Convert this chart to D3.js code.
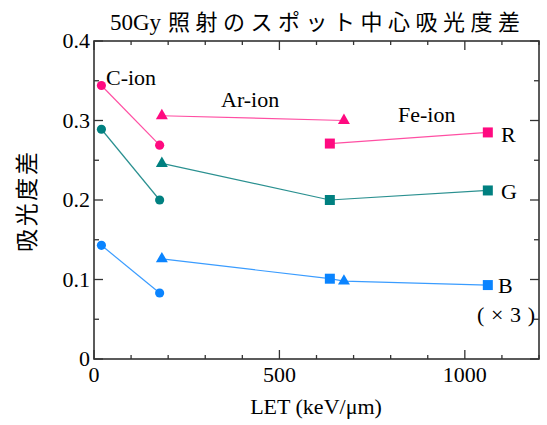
<!DOCTYPE html>
<html>

<head>
    <meta http-equiv="Content-Type" content="text/html; charset=utf-8" />
    <title>50Gy照射のスポット中心吸光度差</title>
    <style type="text/css">
        * {
            margin: 0;
            padding: 0
        }

        html,
        body {
            width: 100%;
            height: 100%;
            background: #fff;
        }
    </style>
</head>

<body>
    <svg id="chart" width="547" height="425"></svg>
    <script src="https://cdn.jsdelivr.net/npm/d3@7"></script>
    <script>
        // データ (LET keV/um, 吸光度差)
        const channels = ["R", "G", "B"];
        const ions = ["C", "Ar", "Fe"];
        const ionLabels = ["C-ion", "Ar-ion", "Fe-ion"];
        const letC = [20, 177];
        const letAr = [183, 674];
        const letFe = [636, 1062];
        const rC = [0.344, 0.269];
        const rAr = [0.306, 0.300];
        const rFe = [0.271, 0.285];
        const gC = [0.289, 0.200];
        const gAr = [0.246];
        const gFe = [0.200, 0.212];
        const bC = [0.143, 0.083];
        const bAr = [0.126, 0.098];
        const bFe = [0.101, 0.093];
        // 線で結ぶグループ
        const lineGroups = {
            R: [["C"], ["Ar"], ["Fe"]],
            G: [["C"], ["Ar", "Fe"]],
            B: [["C"], ["Ar", "Fe"]]
        };
        const xTicks = [0, 500, 1000];
        const yTicks = [0, 0.1, 0.2, 0.3, 0.4];
        const yTickLabels = ["0", "0.1", "0.2", "0.3", "0.4"];

        const colors = { R: "#ff0a80", G: "#008080", B: "#0a84ff" };
        const lineColors = { R: "#ff4fa3", G: "#2a9090", B: "#3a9cff" };
        const serif = '"Liberation Serif", "Times New Roman", "DejaVu Serif", "Noto Sans CJK JP", serif';

        const lets = { C: letC, Ar: letAr, Fe: letFe };
        const values = {
            R: { C: rC, Ar: rAr, Fe: rFe },
            G: { C: gC, Ar: gAr, Fe: gFe },
            B: { C: bC, Ar: bAr, Fe: bFe }
        };

        const svg = d3.select("#chart").style("font-family", serif);
        const margin = { top: 41, right: 8, bottom: 66, left: 94 };
        const width = 547 - margin.left - margin.right;
        const height = 425 - margin.top - margin.bottom;
        const x = d3.scaleLinear().domain([0, 1200]).range([0, width]);
        const y = d3.scaleLinear().domain([0, 0.4]).range([height, 0]);
        const g = svg.append("g").attr("transform", `translate(${margin.left},${margin.top})`);

        // 目盛り (内向き)
        const axisColor = "#333";
        const tickX = d3.range(0, 1201, 100);
        const tickY = d3.range(0, 0.401, 0.05);
        const major = (v, step) => Math.abs(v / step - Math.round(v / step)) < 1e-6;
        tickX.forEach(v => {
            const len = major(v, 500) ? 9 : 4;
            g.append("line").attr("x1", x(v)).attr("x2", x(v)).attr("y1", height).attr("y2", height - len);
            g.append("line").attr("x1", x(v)).attr("x2", x(v)).attr("y1", 0).attr("y2", len);
        });
        tickY.forEach(v => {
            const len = major(v, 0.1) ? 9 : 5;
            g.append("line").attr("x1", 0).attr("x2", len).attr("y1", y(v)).attr("y2", y(v));
            g.append("line").attr("x1", width).attr("x2", width - len).attr("y1", y(v)).attr("y2", y(v));
        });
        g.selectAll("line").attr("stroke", axisColor).attr("stroke-width", 1.3);
        g.append("rect").attr("width", width).attr("height", height)
            .attr("fill", "none").attr("stroke", axisColor).attr("stroke-width", 1.6);

        // 目盛りラベル
        g.selectAll(".xl").data(xTicks).enter().append("text")
            .attr("x", d => x(d)).attr("y", height + 23)
            .attr("text-anchor", "middle").attr("font-size", 22)
            .text(d => d);
        g.selectAll(".yl").data(yTicks).enter().append("text")
            .attr("x", -4).attr("y", d => y(d) + 7)
            .attr("text-anchor", "end").attr("font-size", 22)
            .text((d, i) => yTickLabels[i]);

        // 線
        const line = d3.line().x(d => x(d[0])).y(d => y(d[1]));
        channels.forEach(ch => {
            lineGroups[ch].forEach(grp => {
                const pts = [];
                grp.forEach(ion => {
                    values[ch][ion].forEach((v, i) => pts.push([lets[ion][i], v]));
                });
                pts.sort((a, b) => a[0] - b[0]);
                g.append("path").attr("d", line(pts))
                    .attr("fill", "none").attr("stroke", lineColors[ch]).attr("stroke-width", 1.2);
            });
        });

        // マーカー
        const shapes = { C: d3.symbolCircle, Ar: d3.symbolTriangle, Fe: d3.symbolSquare };
        const sizes = { C: 66, Ar: 62, Fe: 100 };
        channels.forEach(ch => {
            ions.forEach(ion => {
                values[ch][ion].forEach((v, i) => {
                    g.append("path")
                        .attr("d", d3.symbol().type(shapes[ion]).size(sizes[ion])())
                        .attr("transform", `translate(${x(lets[ion][i])},${y(v)})`)
                        .attr("fill", colors[ch]);
                });
            });
        });

        // 注記
        const notes = [
            { t: ionLabels[0], x: 106, y: 85 },
            { t: ionLabels[1], x: 221, y: 107 },
            { t: ionLabels[2], x: 398, y: 122 },
            { t: channels[0], x: 501, y: 142 },
            { t: channels[1], x: 501, y: 199 },
            { t: channels[2], x: 498, y: 293 }
        ];
        notes.forEach(n => {
            svg.append("text").attr("x", n.x).attr("y", n.y).attr("font-size", 22).text(n.t);
        });
        svg.append("text").attr("x", 477).attr("y", 322).attr("font-size", 22)
            .attr("textLength", 58).attr("lengthAdjust", "spacing")
            .text("(×3)");

        // タイトル
        svg.append("text")
            .attr("x", 110).attr("y", 30)
            .attr("font-size", 23)
            .text("50Gy");
        svg.append("text")
            .attr("x", 168).attr("y", 30)
            .attr("font-size", 22)
            .attr("textLength", 352).attr("lengthAdjust", "spacing")
            .text("照射のスポット中心吸光度差");
        svg.append("text")
            .attr("x", 316).attr("y", 414)
            .attr("text-anchor", "middle").attr("font-size", 22)
            .text("LET (keV/μm)");
        svg.append("text")
            .attr("transform", "translate(35,202) rotate(-90)")
            .attr("text-anchor", "middle").attr("font-size", 23)
            .attr("textLength", 100).attr("lengthAdjust", "spacing")
            .text("吸光度差");
    </script>
</body>

</html>
